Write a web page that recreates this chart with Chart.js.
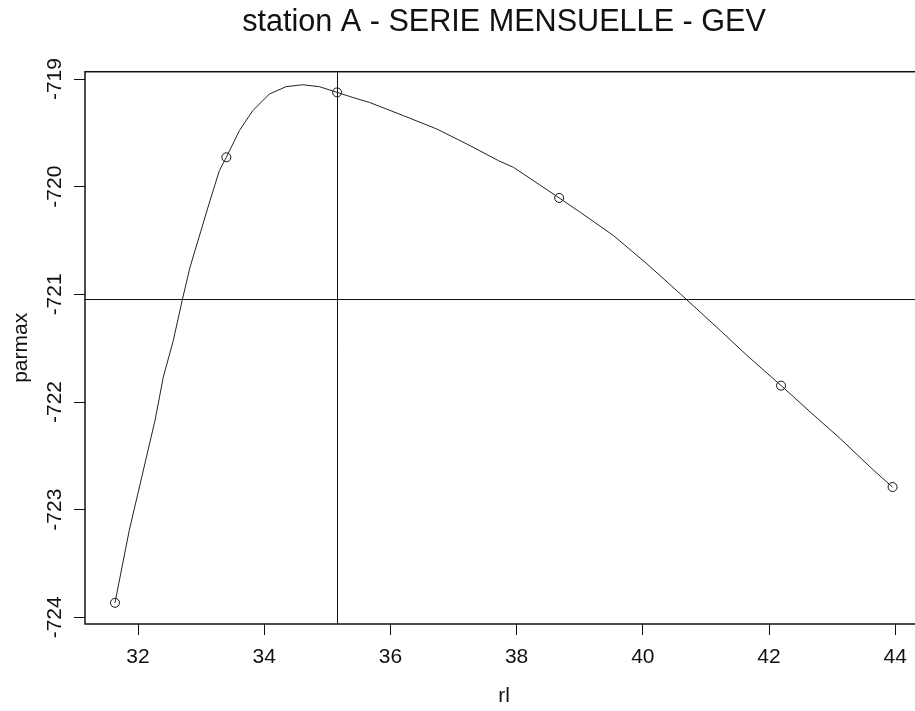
<!DOCTYPE html>
<html>
<head>
<meta charset="utf-8">
<script src="https://cdn.jsdelivr.net/npm/chart.js@4/dist/chart.umd.min.js"></script>
<style>
  html, body { margin: 0; padding: 0; background: #fff; overflow: hidden; }
  canvas { display: block; }
</style>
</head>
<body>
<canvas id="myChart" width="935" height="711"></canvas>
<script>
// profile curve
const rlCurve = [31.635, 31.862, 32.048, 32.270, 32.401, 32.560, 32.702, 32.824, 32.999, 33.141,
  33.289, 33.400, 33.606, 33.818, 34.082, 34.346, 34.611, 34.874, 35.155, 35.404,
  35.667, 36.206, 36.735, 37.263, 37.712, 37.950, 38.674, 39.007, 39.535, 40.064,
  40.592, 41.226, 41.650, 42.193, 42.653, 43.129, 43.657, 43.958];
const parmaxCurve = [-723.865, -723.190, -722.726, -722.170, -721.768, -721.428, -721.050, -720.748, -720.407, -720.129,
  -719.851, -719.727, -719.480, -719.294, -719.139, -719.071, -719.053, -719.071, -719.124, -719.171,
  -719.217, -719.340, -719.464, -719.619, -719.758, -719.820, -720.104, -720.237, -720.454, -720.716,
  -720.994, -721.335, -721.567, -721.848, -722.093, -722.340, -722.634, -722.791];

// evaluated points (circles)
const rlPoints = [31.635, 33.400, 35.155, 38.674, 42.190, 43.958];
const parmaxPoints = [-723.865, -719.727, -719.124, -720.104, -721.848, -722.790];

// reference lines
const rlMle = 35.155;
const parmaxCut = -721.045;

const xTicks = [32, 34, 36, 38, 40, 42, 44];
const yTicks = [-724, -723, -722, -721, -720, -719];

const xMin = 31.16, xMax = 44.44;
const yMin = -724.062, yMax = -718.932;

const FONT = "'Liberation Sans', Arial, sans-serif";

const boxPlugin = {
  id: 'box',
  afterDatasetsDraw(chart) {
    const { ctx, chartArea: a, scales: { x, y } } = chart;
    ctx.save();
    ctx.strokeStyle = '#111';
    ctx.lineWidth = 1;
    const vx = Math.round(x.getPixelForValue(rlMle)) + 0.5;
    const hy = Math.round(y.getPixelForValue(parmaxCut)) + 0.5;
    ctx.beginPath();
    ctx.moveTo(vx, a.top); ctx.lineTo(vx, a.bottom);
    ctx.moveTo(a.left, hy); ctx.lineTo(a.right, hy);
    ctx.stroke();
    ctx.lineWidth = 1.5;
    ctx.strokeRect(a.left, a.top, a.right - a.left, a.bottom - a.top);
    ctx.restore();
  }
};

new Chart(document.getElementById('myChart').getContext('2d'), {
  type: 'scatter',
  data: {
    datasets: [{
      data: rlCurve.map((v, i) => ({ x: v, y: parmaxCurve[i] })),
      showLine: true,
      borderColor: '#222',
      borderWidth: 1,
      pointRadius: 0,
      tension: 0
    }, {
      data: rlPoints.map((v, i) => ({ x: v, y: parmaxPoints[i] })),
      showLine: false,
      pointStyle: 'circle',
      pointRadius: 4.5,
      pointBorderWidth: 1,
      pointBorderColor: '#111',
      pointBackgroundColor: 'rgba(0,0,0,0)'
    }]
  },
  options: {
    responsive: false,
    animation: false,
    layout: { padding: { left: 0, right: 12, top: 0, bottom: 0 } },
    plugins: {
      legend: { display: false },
      tooltip: { enabled: false },
      title: {
        display: true,
        fullSize: false,
        text: 'station A - SERIE MENSUELLE - GEV',
        color: '#111',
        font: { family: FONT, size: 30.6, weight: 'normal' },
        padding: { top: 4.4, bottom: 30.6 }
      }
    },
    scales: {
      x: {
        type: 'linear',
        min: xMin, max: xMax,
        afterBuildTicks: s => { s.ticks = xTicks.map(v => ({ value: v })); },
        afterFit: s => { s.height = 87; },
        border: { display: false },
        grid: { display: true, drawOnChartArea: false, drawTicks: true, tickLength: 11, color: '#111', lineWidth: 1 },
        ticks: { color: '#111', font: { family: FONT, size: 21 }, padding: 10, maxRotation: 0, callback: v => String(v) },
        title: { display: true, text: 'rl', color: '#111', font: { family: FONT, size: 21 }, padding: { top: 0, bottom: 2 } }
      },
      y: {
        type: 'linear',
        min: yMin, max: yMax,
        afterBuildTicks: s => { s.ticks = yTicks.map(v => ({ value: v })); },
        afterFit: s => { s.width = 85; },
        border: { display: false },
        grid: { display: true, drawOnChartArea: false, drawTicks: true, tickLength: 11, color: '#111', lineWidth: 1 },
        ticks: { color: '#111', font: { family: FONT, size: 21 }, padding: -2, minRotation: 90, maxRotation: 90, crossAlign: 'center', callback: v => String(v) },
        title: { display: true, text: 'parmax', color: '#111', font: { family: FONT, size: 21 }, padding: { top: 8.4, bottom: 0 } }
      }
    }
  },
  plugins: [boxPlugin]
});
</script>
</body>
</html>
